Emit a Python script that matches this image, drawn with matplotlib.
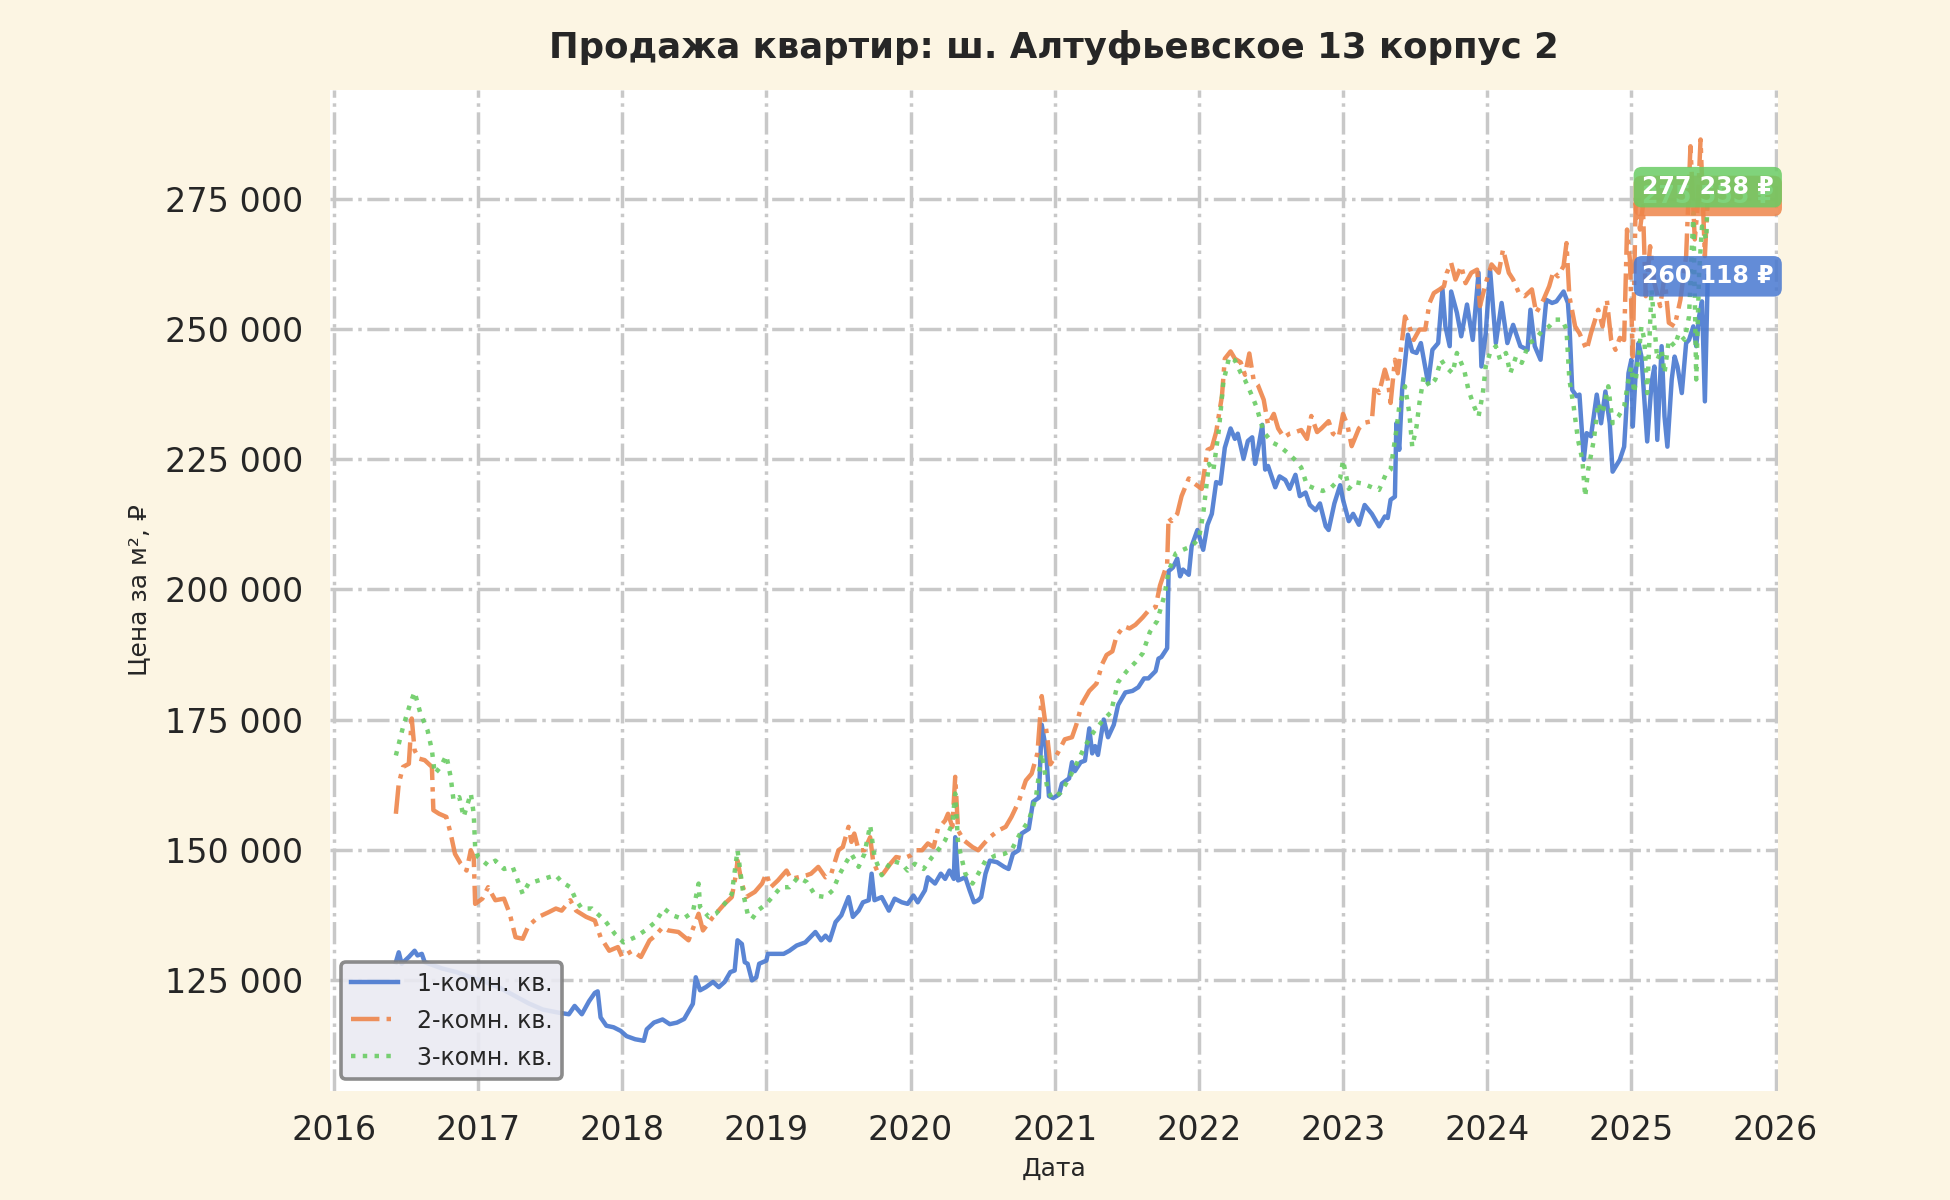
import matplotlib
matplotlib.use("Agg")
import matplotlib.pyplot as plt
from matplotlib.ticker import FuncFormatter, MultipleLocator

plt.rcParams["font.family"] = ["DejaVu Sans"]
plt.rcParams["text.color"] = "#262626"
plt.rcParams["axes.labelcolor"] = "#262626"
plt.rcParams["xtick.color"] = "#262626"
plt.rcParams["ytick.color"] = "#262626"

title = "Продажа квартир: ш. Алтуфьевское 13 корпус 2"
series_names = ["1-комн. кв.", "2-комн. кв.", "3-комн. кв."]

# (год, цена за м²)
room1 = [
    (2016.43, 128400), (2016.45, 130300), (2016.47, 128100), (2016.52, 129400), (2016.56, 130600),
    (2016.58, 129700), (2016.61, 130000), (2016.63, 128400), (2016.66, 128100), (2016.75, 127200),
    (2016.85, 126500), (2016.95, 125500), (2017.05, 124600), (2017.15, 123500), (2017.25, 122000),
    (2017.35, 120500), (2017.45, 119300), (2017.56, 118700), (2017.63, 118400), (2017.67, 120000),
    (2017.72, 118400), (2017.77, 120900), (2017.81, 122500), (2017.83, 122800), (2017.85, 117800),
    (2017.89, 116200), (2017.94, 115900), (2017.99, 115200), (2018.03, 114200), (2018.09, 113600),
    (2018.15, 113300), (2018.17, 115500), (2018.22, 116800), (2018.28, 117400), (2018.33, 116500),
    (2018.38, 116800), (2018.43, 117500), (2018.49, 120400), (2018.51, 125500), (2018.54, 123000),
    (2018.58, 123600), (2018.63, 124600), (2018.67, 123600), (2018.71, 124600), (2018.75, 126500),
    (2018.78, 126800), (2018.80, 132600), (2018.83, 131900), (2018.85, 128400), (2018.87, 128100),
    (2018.90, 124900), (2018.93, 125500), (2018.95, 128100), (2019.00, 128700), (2019.01, 130000),
    (2019.07, 130000), (2019.12, 130000), (2019.16, 130600), (2019.21, 131600), (2019.27, 132200),
    (2019.34, 134200), (2019.38, 132600), (2019.41, 133500), (2019.44, 132600), (2019.48, 136100),
    (2019.52, 137400), (2019.57, 140900), (2019.60, 137100), (2019.64, 138300), (2019.67, 139900),
    (2019.71, 140300), (2019.73, 145400), (2019.75, 140300), (2019.80, 140900), (2019.85, 138300),
    (2019.89, 140600), (2019.94, 139900), (2019.98, 139600), (2020.02, 141200), (2020.05, 139900),
    (2020.10, 142200), (2020.12, 144700), (2020.17, 143500), (2020.21, 145400), (2020.24, 144400),
    (2020.27, 146000), (2020.30, 144400), (2020.31, 152400), (2020.33, 144100), (2020.38, 144700),
    (2020.41, 142200), (2020.44, 139900), (2020.47, 140300), (2020.49, 140900), (2020.52, 145400),
    (2020.55, 147900), (2020.60, 147600), (2020.65, 146700), (2020.68, 146300), (2020.71, 149200),
    (2020.75, 149900), (2020.77, 153100), (2020.82, 154000), (2020.85, 159200), (2020.89, 160000),
    (2020.91, 174000), (2020.94, 169200), (2020.96, 160300), (2020.99, 159900), (2021.03, 160600),
    (2021.05, 162700), (2021.10, 163700), (2021.12, 166800), (2021.14, 165100), (2021.18, 166800),
    (2021.21, 167100), (2021.24, 173300), (2021.26, 168500), (2021.28, 169900), (2021.30, 168200),
    (2021.34, 175000), (2021.37, 171600), (2021.41, 174000), (2021.44, 177800), (2021.49, 180200),
    (2021.54, 180500), (2021.58, 181200), (2021.62, 182900), (2021.65, 182900), (2021.70, 184300),
    (2021.72, 186700), (2021.74, 187000), (2021.78, 188700), (2021.79, 203500), (2021.82, 204200),
    (2021.85, 205900), (2021.87, 202500), (2021.89, 203800), (2021.93, 202800), (2021.95, 208300),
    (2021.99, 211400), (2022.03, 207600), (2022.06, 212400), (2022.09, 214500), (2022.12, 220600),
    (2022.15, 220300), (2022.18, 227200), (2022.22, 230900), (2022.25, 228900), (2022.27, 229900),
    (2022.31, 225100), (2022.34, 228500), (2022.37, 229200), (2022.39, 224100), (2022.41, 226800),
    (2022.44, 231600), (2022.46, 223000), (2022.48, 223700), (2022.53, 219600), (2022.56, 221700),
    (2022.60, 221000), (2022.63, 219300), (2022.67, 222000), (2022.70, 217900), (2022.74, 218600),
    (2022.77, 216200), (2022.81, 215200), (2022.84, 216500), (2022.88, 212100), (2022.90, 211400),
    (2022.94, 216500), (2022.98, 220000), (2023.00, 217200), (2023.04, 213100), (2023.07, 214500),
    (2023.11, 212400), (2023.15, 216200), (2023.20, 214500), (2023.25, 212100), (2023.29, 214000),
    (2023.31, 213700), (2023.33, 217200), (2023.36, 217800), (2023.37, 231900), (2023.39, 226800),
    (2023.41, 238300), (2023.45, 248900), (2023.48, 245700), (2023.51, 245400), (2023.54, 247300),
    (2023.59, 239600), (2023.62, 246000), (2023.66, 247300), (2023.69, 257600), (2023.71, 250500),
    (2023.74, 246700), (2023.75, 257200), (2023.79, 253100), (2023.82, 248600), (2023.86, 254700),
    (2023.90, 247900), (2023.94, 260800), (2023.96, 242800), (2023.99, 249200), (2024.02, 261400),
    (2024.06, 247300), (2024.10, 255000), (2024.14, 247300), (2024.18, 250800), (2024.23, 246700),
    (2024.28, 246000), (2024.30, 253700), (2024.33, 246700), (2024.37, 244100), (2024.41, 255600),
    (2024.45, 255000), (2024.48, 255300), (2024.53, 257200), (2024.56, 255000), (2024.57, 251200),
    (2024.59, 238300), (2024.62, 237100), (2024.64, 237400), (2024.67, 224900), (2024.69, 230000),
    (2024.72, 229400), (2024.76, 237400), (2024.79, 231900), (2024.82, 238000), (2024.85, 231900),
    (2024.87, 222600), (2024.92, 224900), (2024.95, 227400), (2024.98, 241500), (2025.00, 244100),
    (2025.01, 231300), (2025.03, 241500), (2025.05, 247300), (2025.07, 244700), (2025.09, 236400),
    (2025.11, 228400), (2025.14, 239600), (2025.16, 242800), (2025.18, 228700), (2025.21, 246700),
    (2025.23, 233200), (2025.25, 227400), (2025.28, 240300), (2025.30, 244700), (2025.32, 242800),
    (2025.35, 237700), (2025.38, 247300), (2025.40, 247900), (2025.43, 250500), (2025.45, 246700),
    (2025.47, 252400), (2025.49, 255300), (2025.51, 236100), (2025.53, 260118),
]

room2 = [
    (2016.43, 156900), (2016.45, 162700), (2016.48, 165900), (2016.52, 166500), (2016.54, 175200),
    (2016.56, 169100), (2016.59, 167500), (2016.63, 167200), (2016.68, 165900), (2016.69, 157600),
    (2016.73, 156900), (2016.78, 156300), (2016.81, 153100), (2016.84, 149200), (2016.88, 147300),
    (2016.92, 146000), (2016.95, 149900), (2016.97, 148600), (2016.98, 139600), (2017.03, 140600),
    (2017.07, 142800), (2017.12, 140300), (2017.18, 140600), (2017.22, 137700), (2017.26, 133200),
    (2017.31, 132900), (2017.35, 135400), (2017.42, 137100), (2017.49, 138000), (2017.54, 138700),
    (2017.58, 138300), (2017.64, 140300), (2017.68, 138300), (2017.75, 137100), (2017.81, 136400),
    (2017.85, 133200), (2017.91, 130600), (2017.97, 131300), (2018.00, 129400), (2018.07, 130600),
    (2018.13, 129400), (2018.19, 132600), (2018.23, 133500), (2018.28, 135100), (2018.32, 134500),
    (2018.39, 134200), (2018.46, 132600), (2018.53, 137700), (2018.56, 134500), (2018.63, 137100),
    (2018.71, 139600), (2018.76, 140900), (2018.79, 145400), (2018.80, 147900), (2018.83, 143500),
    (2018.86, 140900), (2018.92, 141900), (2018.97, 143500), (2019.00, 145400), (2019.03, 142800),
    (2019.08, 144100), (2019.14, 146000), (2019.17, 144400), (2019.22, 144700), (2019.28, 145100),
    (2019.31, 145400), (2019.36, 146700), (2019.41, 144700), (2019.45, 145400), (2019.50, 149900),
    (2019.53, 150500), (2019.57, 154400), (2019.59, 151500), (2019.61, 153100), (2019.64, 149900),
    (2019.68, 149900), (2019.72, 152400), (2019.74, 147900), (2019.78, 145100), (2019.81, 145400),
    (2019.86, 147300), (2019.90, 148600), (2019.95, 148300), (2020.00, 148900), (2020.04, 149900),
    (2020.08, 149900), (2020.12, 151200), (2020.16, 150500), (2020.19, 154000), (2020.24, 155600),
    (2020.26, 156900), (2020.29, 154400), (2020.31, 164000), (2020.33, 153700), (2020.37, 151800),
    (2020.43, 150500), (2020.47, 149900), (2020.51, 151200), (2020.55, 152400), (2020.61, 153700),
    (2020.66, 154400), (2020.70, 156300), (2020.75, 159200), (2020.80, 163300), (2020.84, 164600),
    (2020.88, 168500), (2020.91, 179500), (2020.95, 171200), (2020.97, 166400), (2021.02, 168500),
    (2021.07, 171200), (2021.12, 171600), (2021.15, 174000), (2021.19, 178100), (2021.24, 180500),
    (2021.29, 181900), (2021.33, 185700), (2021.36, 187400), (2021.40, 188100), (2021.43, 191100),
    (2021.48, 192900), (2021.52, 192500), (2021.56, 193200), (2021.61, 194600), (2021.65, 195900),
    (2021.70, 196600), (2021.73, 200700), (2021.78, 204900), (2021.79, 213800), (2021.81, 213100),
    (2021.85, 214500), (2021.88, 217900), (2021.93, 221300), (2021.97, 220300), (2022.02, 219300),
    (2022.06, 226800), (2022.09, 227200), (2022.12, 230200), (2022.16, 237100), (2022.18, 244300),
    (2022.22, 245700), (2022.25, 244300), (2022.29, 243600), (2022.32, 241200), (2022.35, 245300),
    (2022.38, 240200), (2022.41, 239200), (2022.45, 236400), (2022.48, 231600), (2022.52, 233700),
    (2022.55, 230900), (2022.59, 229200), (2022.63, 229900), (2022.67, 230200), (2022.71, 230600),
    (2022.75, 228900), (2022.78, 233300), (2022.82, 230200), (2022.85, 230900), (2022.90, 232300),
    (2022.93, 229900), (2022.97, 229200), (2023.00, 233700), (2023.03, 231600), (2023.06, 227500),
    (2023.11, 230900), (2023.15, 232000), (2023.20, 232300), (2023.22, 239200), (2023.25, 237700),
    (2023.29, 242200), (2023.31, 240300), (2023.33, 235800), (2023.36, 244100), (2023.38, 241500),
    (2023.41, 247900), (2023.43, 252400), (2023.46, 250500), (2023.49, 247900), (2023.53, 249900),
    (2023.57, 249900), (2023.60, 255000), (2023.63, 256900), (2023.67, 257600), (2023.70, 258200),
    (2023.72, 260800), (2023.75, 262700), (2023.78, 259500), (2023.82, 262100), (2023.85, 258800),
    (2023.89, 260800), (2023.93, 261400), (2023.95, 254400), (2023.99, 258800), (2024.03, 262400),
    (2024.08, 260800), (2024.11, 265300), (2024.15, 260800), (2024.18, 259500), (2024.22, 256900),
    (2024.26, 256300), (2024.31, 257600), (2024.34, 253100), (2024.39, 255600), (2024.43, 258200),
    (2024.46, 261100), (2024.49, 260100), (2024.53, 262100), (2024.55, 266500), (2024.57, 256300),
    (2024.61, 250500), (2024.64, 249200), (2024.69, 246000), (2024.72, 249200), (2024.77, 253700),
    (2024.80, 250500), (2024.83, 255600), (2024.86, 247900), (2024.89, 246000), (2024.92, 248300),
    (2024.95, 247900), (2024.97, 269100), (2024.99, 263300), (2025.01, 244700), (2025.03, 274200),
    (2025.06, 269100), (2025.08, 273600), (2025.10, 256300), (2025.13, 265900), (2025.16, 258800),
    (2025.20, 254400), (2025.23, 260100), (2025.26, 251200), (2025.30, 250500), (2025.34, 255600),
    (2025.38, 264000), (2025.41, 285100), (2025.44, 267200), (2025.46, 273600), (2025.48, 286400),
    (2025.51, 264000), (2025.53, 275555),
]

room3 = [
    (2016.43, 168100), (2016.48, 173600), (2016.53, 178100), (2016.56, 180300), (2016.60, 176200),
    (2016.65, 172900), (2016.68, 169100), (2016.70, 164600), (2016.74, 165900), (2016.78, 168100),
    (2016.81, 164000), (2016.83, 159500), (2016.87, 160100), (2016.90, 156300), (2016.95, 160800),
    (2016.97, 156900), (2016.98, 150500), (2017.00, 148600), (2017.07, 147000), (2017.12, 147900),
    (2017.18, 146300), (2017.24, 146700), (2017.31, 141500), (2017.35, 143500), (2017.42, 144100),
    (2017.49, 144700), (2017.54, 145100), (2017.58, 143800), (2017.64, 142800), (2017.68, 140300),
    (2017.72, 138700), (2017.79, 138700), (2017.84, 137400), (2017.88, 136400), (2017.95, 133800),
    (2018.01, 132200), (2018.09, 133200), (2018.16, 134500), (2018.23, 136100), (2018.29, 138700),
    (2018.35, 137400), (2018.42, 136700), (2018.49, 138000), (2018.53, 143500), (2018.54, 139000),
    (2018.60, 137100), (2018.65, 137700), (2018.71, 139600), (2018.76, 141500), (2018.80, 149900),
    (2018.84, 141500), (2018.87, 137700), (2018.90, 136700), (2018.94, 138300), (2019.00, 139600),
    (2019.06, 141500), (2019.10, 142800), (2019.16, 142800), (2019.22, 144700), (2019.28, 143800),
    (2019.34, 141200), (2019.41, 140900), (2019.46, 142200), (2019.51, 145400), (2019.56, 147900),
    (2019.59, 149200), (2019.64, 146700), (2019.68, 149200), (2019.72, 154700), (2019.75, 148600),
    (2019.80, 145100), (2019.87, 147900), (2019.94, 147300), (2019.98, 146000), (2020.03, 147300),
    (2020.09, 146300), (2020.15, 148600), (2020.19, 149900), (2020.24, 151800), (2020.29, 155000),
    (2020.31, 160800), (2020.33, 151200), (2020.38, 145400), (2020.43, 143500), (2020.47, 145400),
    (2020.52, 147900), (2020.59, 148900), (2020.65, 149200), (2020.70, 149900), (2020.76, 153100),
    (2020.82, 155600), (2020.87, 160100), (2020.91, 168500), (2020.95, 161600), (2020.98, 159900),
    (2021.04, 160900), (2021.10, 163700), (2021.15, 166400), (2021.21, 169900), (2021.27, 172600),
    (2021.33, 174700), (2021.39, 176400), (2021.44, 182200), (2021.50, 184300), (2021.56, 186000),
    (2021.61, 187700), (2021.66, 191800), (2021.71, 193900), (2021.76, 198700), (2021.79, 203500),
    (2021.84, 206900), (2021.89, 207600), (2021.95, 208300), (2022.00, 209700), (2022.03, 214500),
    (2022.07, 224100), (2022.10, 222700), (2022.14, 230900), (2022.17, 239800), (2022.21, 244600),
    (2022.25, 244000), (2022.29, 241600), (2022.32, 240200), (2022.37, 237100), (2022.40, 235000),
    (2022.45, 230200), (2022.51, 228200), (2022.56, 227500), (2022.62, 226100), (2022.67, 224800),
    (2022.71, 223400), (2022.75, 220000), (2022.81, 219300), (2022.86, 218900), (2022.92, 219600),
    (2022.98, 221300), (2023.00, 224800), (2023.04, 219300), (2023.08, 220600), (2023.14, 220300),
    (2023.20, 219600), (2023.25, 219100), (2023.30, 222300), (2023.33, 223000), (2023.37, 230600),
    (2023.39, 235100), (2023.43, 239000), (2023.46, 233800), (2023.48, 227400), (2023.51, 231300),
    (2023.53, 235800), (2023.56, 240900), (2023.60, 239000), (2023.64, 240300), (2023.68, 244100),
    (2023.71, 242800), (2023.76, 241500), (2023.79, 245400), (2023.84, 242200), (2023.87, 238300),
    (2023.91, 235100), (2023.94, 233200), (2023.97, 237700), (2023.99, 242800), (2024.02, 245400),
    (2024.06, 246700), (2024.09, 244100), (2024.13, 245400), (2024.16, 241500), (2024.20, 244700),
    (2024.24, 243500), (2024.29, 247300), (2024.33, 247900), (2024.38, 249600), (2024.43, 250500),
    (2024.47, 251800), (2024.52, 251800), (2024.55, 249900), (2024.57, 240300), (2024.60, 235100),
    (2024.63, 228700), (2024.66, 224900), (2024.68, 217800), (2024.70, 222900), (2024.74, 228700),
    (2024.77, 235800), (2024.80, 233800), (2024.84, 239000), (2024.87, 231900), (2024.91, 233200),
    (2024.95, 235100), (2024.98, 240300), (2025.00, 242800), (2025.02, 237700), (2025.05, 244700),
    (2025.07, 250500), (2025.09, 247900), (2025.11, 237700), (2025.14, 257600), (2025.16, 250500),
    (2025.18, 244100), (2025.21, 246000), (2025.23, 241500), (2025.26, 247900), (2025.30, 246700),
    (2025.33, 249200), (2025.37, 247900), (2025.40, 252400), (2025.43, 272300), (2025.45, 240300),
    (2025.47, 260800), (2025.49, 269700), (2025.52, 267200), (2025.53, 277238),
]

colors = ["#4878d0", "#ee854a", "#6acc64"]
styles = ["-", "-.", ":"]


def fmt_num(v, pos=None):
    return f"{int(round(v)):,}".replace(",", " ")


fig = plt.figure(figsize=(9.75, 6), dpi=200, facecolor="#fcf5e3")
ax = fig.add_axes([0.169, 0.091, 0.743, 0.834])
ax.set_facecolor("white")
for s in ax.spines.values():
    s.set_visible(False)

ax.grid(True, color="#c8c8c8", linestyle="-.", linewidth=1.25, zorder=0)
ax.set_axisbelow(True)

all_series = [room1, room2, room3]
for pts, name, c, ls in zip(all_series, series_names, colors, styles):
    xs = [p[0] for p in pts]
    ys = [p[1] for p in pts]
    ax.plot(xs, ys, ls, color=c, lw=1.6, alpha=0.9, label=name, zorder=3)

# подписи последних значений
for pts, c in zip(all_series, colors):
    x_last, y_last = pts[-1]
    ax.annotate(fmt_num(y_last) + " ₽", xy=(x_last, y_last), ha="center", va="center",
                fontsize=8.5, fontweight="bold", color="white", zorder=5,
                bbox=dict(boxstyle="round,pad=0.35", fc=c, ec="none", alpha=0.85),
                annotation_clip=False)

ax.set_xlim(2015.97, 2026.02)
ax.set_ylim(103700, 295900)
ax.xaxis.set_major_locator(MultipleLocator(1))
ax.xaxis.set_major_formatter(FuncFormatter(lambda v, p: f"{int(round(v))}"))
ax.yaxis.set_major_locator(MultipleLocator(25000))
ax.yaxis.set_major_formatter(FuncFormatter(fmt_num))
ax.tick_params(axis="both", length=0, labelsize=12)
ax.tick_params(axis="y", pad=9.5)
ax.tick_params(axis="x", pad=8.5)

ax.set_title(title, fontsize=12.8, fontweight="bold", pad=11.5)
ax.set_xlabel("Дата", fontsize=9, labelpad=3.5)
ax.set_ylabel("Цена за м², ₽", fontsize=9, labelpad=5)

leg = ax.legend(loc="lower left", fontsize=8.5, facecolor="#eaeaf2", edgecolor="#808080",
                framealpha=0.9, fancybox=True, labelspacing=0.55)
leg.get_frame().set_linewidth(1.3)

fig.savefig("out.png", dpi=200, facecolor=fig.get_facecolor())
